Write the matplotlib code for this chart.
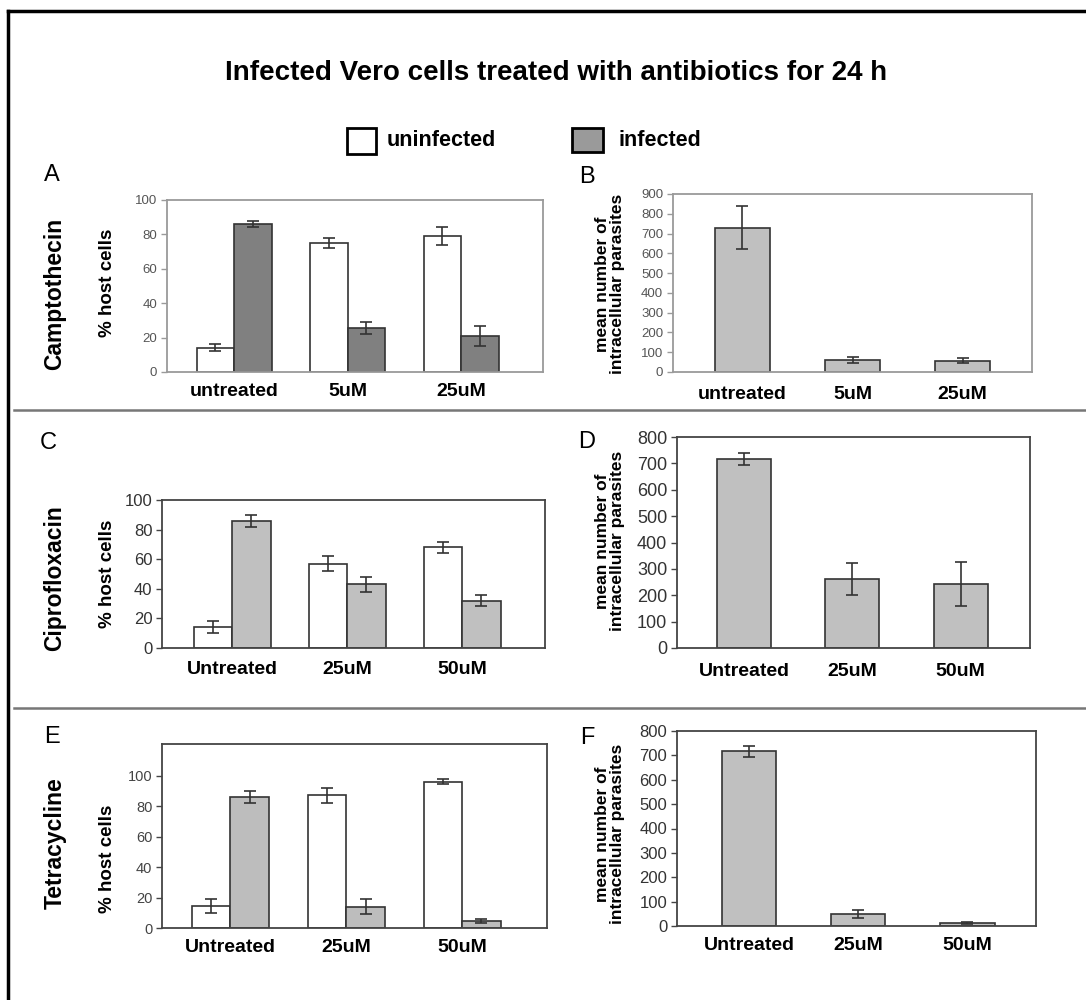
import matplotlib
matplotlib.use("Agg")
import matplotlib.pyplot as plt
import numpy as np
from matplotlib.patches import Rectangle
from matplotlib.lines import Line2D

plt.rcParams['font.family'] = ['Liberation Sans', 'DejaVu Sans']

# ---- data ----
cats_camp = ["untreated", "5uM", "25uM"]
cats_other = ["Untreated", "25uM", "50uM"]

camp_uninf = [14, 75, 79]
camp_uninf_err = [2, 3, 5.2]
camp_inf = [86, 25.5, 21]
camp_inf_err = [1.7, 3.5, 5.7]
camp_par = [730, 60, 57]
camp_par_err = [110, 17, 14]

cipro_uninf = [14, 57, 68]
cipro_uninf_err = [4, 5, 3.5]
cipro_inf = [86, 43, 32]
cipro_inf_err = [4, 5, 3.7]
cipro_par = [716, 262, 244]
cipro_par_err = [24, 60, 83]

tetra_uninf = [14.5, 87, 96]
tetra_uninf_err = [4.5, 4.7, 1.6]
tetra_inf = [86, 14, 4.5]
tetra_inf_err = [4, 5, 1.5]
tetra_par = [716, 50, 11]
tetra_par_err = [22, 17, 4]

W, H = 1086, 1000
fig = plt.figure(figsize=(W / 100, H / 100), dpi=100)
fig.patch.set_facecolor("white")


def rect(l, t, r, b):
    return [l / W, 1 - b / H, (r - l) / W, (b - t) / H]


def ftext(x, y, s, **kw):
    fig.text(x / W, 1 - y / H, s, **kw)


def style_axes(ax, spine_col, tick_col, tick_size, xlab_pad, cat_size=14):
    for sp in ax.spines.values():
        sp.set_color(spine_col)
        sp.set_linewidth(1.3)
    ax.tick_params(axis="y", direction="out", length=4, width=1, color=spine_col,
                   labelsize=tick_size, labelcolor=tick_col, pad=3)
    ax.tick_params(axis="x", length=0, pad=xlab_pad, labelsize=cat_size)
    for lb in ax.get_xticklabels():
        lb.set_fontweight("bold")


def grouped(ax, uninf, uninf_err, inf, inf_err, cats, inf_color, w, xlim, ylim, yticks):
    x = np.arange(len(cats))
    ax.bar(x - w / 2, uninf, width=w, color="white", edgecolor="#333333", linewidth=1.2,
           yerr=uninf_err, error_kw=dict(ecolor="#333333", elinewidth=1.2, capsize=4, capthick=1.2))
    ax.bar(x + w / 2, inf, width=w, color=inf_color, edgecolor="#333333", linewidth=1.2,
           yerr=inf_err, error_kw=dict(ecolor="#333333", elinewidth=1.2, capsize=4, capthick=1.2))
    ax.set_xlim(*xlim)
    ax.set_ylim(*ylim)
    ax.set_yticks(yticks)
    ax.set_xticks(x)
    ax.set_xticklabels(cats)


def single(ax, vals, errs, cats, w, xlim, ylim, yticks):
    x = np.arange(len(cats))
    ax.bar(x, vals, width=w, color="#c0c0c0", edgecolor="#333333", linewidth=1.2,
           yerr=errs, error_kw=dict(ecolor="#333333", elinewidth=1.2, capsize=4, capthick=1.2))
    ax.set_xlim(*xlim)
    ax.set_ylim(*ylim)
    ax.set_yticks(yticks)
    ax.set_xticks(x)
    ax.set_xticklabels(cats)


# ---- Panel A ----
axA = fig.add_axes(rect(167, 200, 543, 372))
grouped(axA, camp_uninf, camp_uninf_err, camp_inf, camp_inf_err, cats_camp, "#808080",
        0.33, (-0.59, 2.72), (0, 100), range(0, 101, 20))
style_axes(axA, "#9a9a9a", "#555555", 9.5, 8)

# ---- Panel B ----
axB = fig.add_axes(rect(673, 194, 1032, 372))
single(axB, camp_par, camp_par_err, cats_camp, 0.5, (-0.63, 2.63), (0, 900), range(0, 901, 100))
style_axes(axB, "#9a9a9a", "#555555", 9.5, 10)

# ---- Panel C ----
axC = fig.add_axes(rect(162, 500, 545, 648))
grouped(axC, cipro_uninf, cipro_uninf_err, cipro_inf, cipro_inf_err, cats_other, "#c0c0c0",
        0.335, (-0.61, 2.72), (0, 100), range(0, 101, 20))
style_axes(axC, "#444444", "#333333", 12, 9)

# ---- Panel D ----
axD = fig.add_axes(rect(677, 437, 1030, 648))
single(axD, cipro_par, cipro_par_err, cats_other, 0.5, (-0.62, 2.64), (0, 800), range(0, 801, 100))
style_axes(axD, "#444444", "#333333", 13, 11)

# ---- Panel E ----
axE = fig.add_axes(rect(162, 744, 547, 928))
grouped(axE, tetra_uninf, tetra_uninf_err, tetra_inf, tetra_inf_err, cats_other, "#bdbdbd",
        0.33, (-0.59, 2.73), (0, 120.8), range(0, 101, 20))
style_axes(axE, "#444444", "#444444", 10.5, 8)

# ---- Panel F ----
axF = fig.add_axes(rect(677, 731, 1036, 926))
single(axF, tetra_par, tetra_par_err, cats_other, 0.5, (-0.66, 2.63), (0, 800), range(0, 801, 100))
style_axes(axF, "#444444", "#333333", 12, 8)

# ---- panel letters, row labels, y labels ----
for s, x, y in [("A", 52, 175), ("B", 587, 177), ("C", 48, 443),
                ("D", 587, 442), ("E", 52, 737), ("F", 587, 738)]:
    ftext(x, y, s, fontsize=17, ha="center", va="center")

for s, y in [("Camptothecin", 294), ("Ciprofloxacin", 578), ("Tetracycline", 843)]:
    ftext(55, y, s, fontsize=16.5, fontweight="bold", rotation=90, ha="center", va="center")

for y in [283, 574, 859]:
    ftext(108, y, "% host cells", fontsize=13.5, fontweight="bold", rotation=90,
          ha="center", va="center")

for y in [284, 541, 834]:
    ftext(610, y, "mean number of\nintracellular parasites", fontsize=12.5, fontweight="bold",
          rotation=90, ha="center", va="center", multialignment="center", linespacing=1.05)

# ---- title and legend ----
ftext(556, 73, "Infected Vero cells treated with antibiotics for 24 h", fontsize=20,
      fontweight="bold", ha="center", va="center")

fig.add_artist(Rectangle((347 / W, 1 - 154 / H), 29 / W, 26 / H, transform=fig.transFigure,
                         facecolor="white", edgecolor="black", linewidth=2))
fig.add_artist(Rectangle((572 / W, 1 - 152 / H), 31 / W, 24 / H, transform=fig.transFigure,
                         facecolor="#9a9a9a", edgecolor="black", linewidth=2))
ftext(387, 141, "uninfected", fontsize=15.5, fontweight="bold", ha="left", va="center")
ftext(618, 141, "infected", fontsize=15.5, fontweight="bold", ha="left", va="center")

# ---- frame and separators ----
fig.add_artist(Line2D([8 / W, 1], [1 - 11 / H, 1 - 11 / H], transform=fig.transFigure,
                      color="black", linewidth=2.5))
fig.add_artist(Line2D([8 / W, 8 / W], [1 - 11 / H, 0], transform=fig.transFigure,
                      color="black", linewidth=2.5))
for y in [410, 708]:
    fig.add_artist(Line2D([14 / W, 1], [1 - y / H, 1 - y / H], transform=fig.transFigure,
                          color="#777777", linewidth=1.8))

fig.savefig("out.png", dpi=100)
